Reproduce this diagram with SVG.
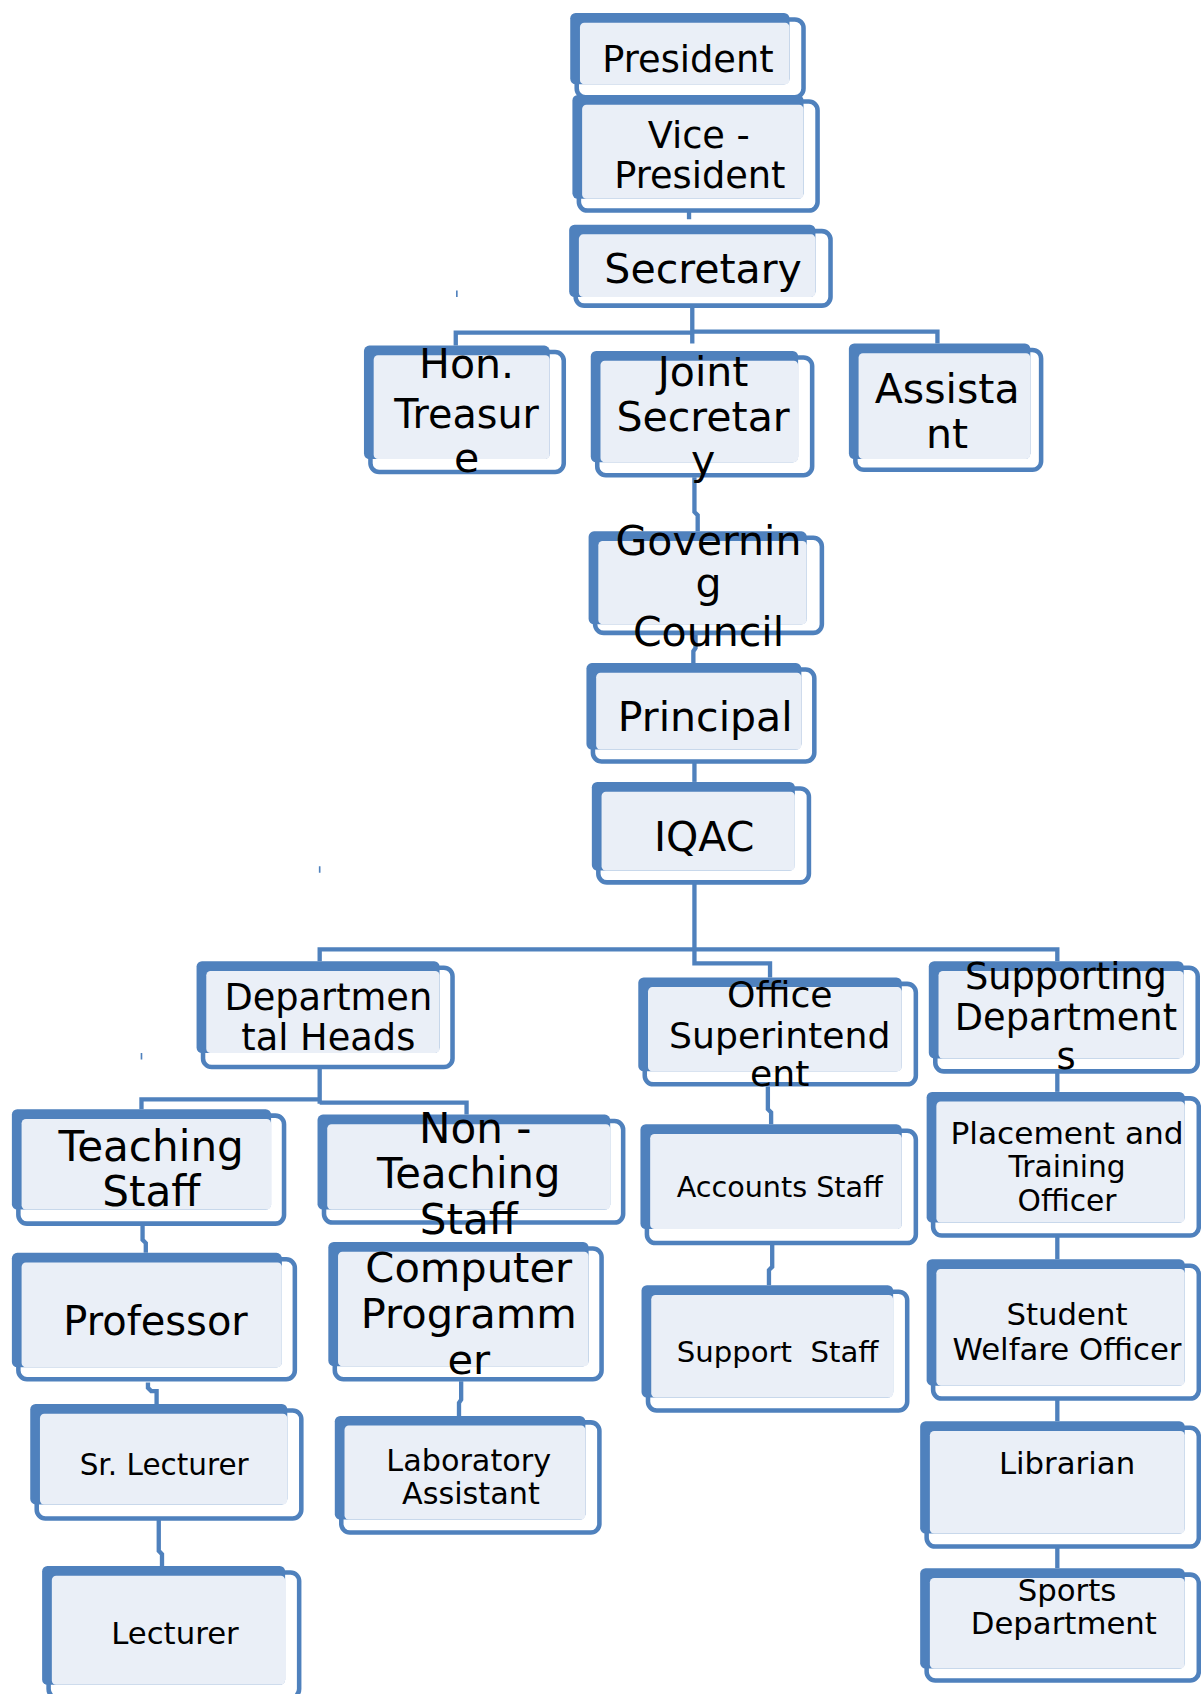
<svg xmlns="http://www.w3.org/2000/svg" width="1201" height="1694" viewBox="0 0 1201 1694">
<style>
.b{fill:#4F81BD}
.o{fill:#FFFFFF;stroke:#4F81BD;stroke-width:4.2}
.l{fill:#EAEFF7}
.c{fill:none;stroke:#4F81BD;stroke-width:4}
.t{fill:none;stroke:#4F81BD;stroke-width:1.5}
text{font-family:"DejaVu Sans","Liberation Sans",sans-serif;text-anchor:middle;fill:#000}
</style>
<rect width="1201" height="1694" fill="#FFFFFF"/>
<g transform="scale(1.08)">
<g id="connectors">
<path class="c" d="M638,192 V203"/>
<path class="c" d="M641,285 V308 M422,320 V308 H641 M641,307 H868 V318 M641,308 V318"/>
<path class="c" d="M643,442 V474 L646,477 V492"/>
<path class="c" d="M644,588 V600 L642,603 V614"/>
<path class="c" d="M643,700 V724"/>
<path class="c" d="M643,818 V892 H713 V905 M296,890 V879 H979 V890"/>
<path class="c" d="M296,988 V1022 M131,1027 V1018 H296 M296,1021 H432 V1032"/>
<path class="c" d="M132,1135 V1148 L135,1151 V1160"/>
<path class="c" d="M137,1280 V1285 L140,1288 H145 V1300"/>
<path class="c" d="M147,1407 V1436 L150,1439 V1450"/>
<path class="c" d="M427,1279 V1296 L425,1299 V1311"/>
<path class="c" d="M711,1006 V1027 L714,1030 V1041"/>
<path class="c" d="M715,1150 V1173 L712,1176 V1190"/>
<path class="c" d="M979,986 V1011"/>
<path class="c" d="M979,1145 V1166"/>
<path class="c" d="M979,1296 V1316"/>
<path class="c" d="M979,1432 V1452"/>
<path class="t" d="M423,269 V275 M296,802 V808 M131,975 V981"/>
</g>
<g id="president">
<rect class="o" x="534" y="18" width="210" height="72" rx="8"/>
<rect class="b" x="528" y="12" width="203" height="66" rx="5"/>
<rect class="l" x="537" y="21" width="194" height="57" rx="4"/>
<text x="637" y="67" font-size="34">President</text>
</g>
<g id="vice-president">
<rect class="o" x="536" y="94" width="221" height="101" rx="8"/>
<rect class="b" x="530" y="88" width="214" height="96" rx="5"/>
<rect class="l" x="539" y="97" width="205" height="87" rx="4"/>
<text x="647" y="137" font-size="34">Vice -</text>
<text x="648" y="174" font-size="34">President</text>
</g>
<g id="secretary">
<rect class="o" x="533" y="214" width="236" height="69" rx="8"/>
<rect class="b" x="527" y="208" width="228" height="67" rx="5"/>
<rect class="l" x="536" y="217" width="219" height="58" rx="4"/>
<text x="651" y="262" font-size="38">Secretary</text>
</g>
<g id="hon-treasurer">
<rect class="o" x="343" y="326" width="179" height="111" rx="8"/>
<rect class="b" x="337" y="320" width="172" height="105" rx="5"/>
<rect class="l" x="346" y="329" width="163" height="96" rx="4"/>
<text x="432" y="350" font-size="38">Hon.</text>
<text x="432" y="396" font-size="38" textLength="134" lengthAdjust="spacingAndGlyphs">Treasur</text>
<text x="432" y="437" font-size="38">e</text>
</g>
<g id="joint-secretary">
<rect class="o" x="553" y="331" width="199" height="109" rx="8"/>
<rect class="b" x="547" y="325" width="192" height="103" rx="5"/>
<rect class="l" x="556" y="334" width="183" height="94" rx="4"/>
<text x="651" y="357" font-size="38">Joint</text>
<text x="651" y="399" font-size="38">Secretar</text>
<text x="651" y="439" font-size="38">y</text>
</g>
<g id="assistant">
<rect class="o" x="792" y="324" width="172" height="111" rx="8"/>
<rect class="b" x="786" y="318" width="168" height="107" rx="5"/>
<rect class="l" x="795" y="327" width="159" height="98" rx="4"/>
<text x="877" y="373" font-size="38">Assista</text>
<text x="877" y="415" font-size="38">nt</text>
</g>
<g id="governing-council">
<rect class="o" x="551" y="498" width="210" height="88" rx="8"/>
<rect class="b" x="545" y="492" width="202" height="86" rx="5"/>
<rect class="l" x="554" y="501" width="193" height="77" rx="4"/>
<text x="656" y="514" font-size="38">Governin</text>
<text x="656" y="553" font-size="38">g</text>
<text x="656" y="598" font-size="38">Council</text>
</g>
<g id="principal">
<rect class="o" x="549" y="620" width="205" height="85" rx="8"/>
<rect class="b" x="543" y="614" width="199" height="80" rx="5"/>
<rect class="l" x="552" y="623" width="190" height="71" rx="4"/>
<text x="653" y="677" font-size="38">Principal</text>
</g>
<g id="iqac">
<rect class="o" x="554" y="730" width="195" height="87" rx="8"/>
<rect class="b" x="548" y="724" width="188" height="82" rx="5"/>
<rect class="l" x="557" y="733" width="179" height="73" rx="4"/>
<text x="652" y="788" font-size="38">IQAC</text>
</g>
<g id="departmental-heads">
<rect class="o" x="188" y="896" width="231" height="92" rx="8"/>
<rect class="b" x="182" y="890" width="225" height="85" rx="5"/>
<rect class="l" x="191" y="899" width="216" height="76" rx="4"/>
<text x="304" y="935" font-size="34">Departmen</text>
<text x="304" y="972" font-size="34">tal Heads</text>
</g>
<g id="office-superintendent">
<rect class="o" x="597" y="911" width="251" height="93" rx="8"/>
<rect class="b" x="591" y="905" width="244" height="87" rx="5"/>
<rect class="l" x="600" y="914" width="235" height="78" rx="4"/>
<text x="722" y="932" font-size="33.5">Office</text>
<text x="722" y="970" font-size="33.5">Superintend</text>
<text x="722" y="1006" font-size="33.5">ent</text>
</g>
<g id="supporting-departments">
<rect class="o" x="866" y="896" width="243" height="96" rx="8"/>
<rect class="b" x="860" y="890" width="236" height="90" rx="5"/>
<rect class="l" x="869" y="899" width="227" height="81" rx="4"/>
<text x="987" y="916" font-size="34">Supporting</text>
<text x="987" y="954" font-size="34">Department</text>
<text x="987" y="990" font-size="34">s</text>
</g>
<g id="teaching-staff">
<rect class="o" x="17" y="1033" width="246" height="100" rx="8"/>
<rect class="b" x="11" y="1027" width="240" height="93" rx="5"/>
<rect class="l" x="20" y="1036" width="231" height="84" rx="4"/>
<text x="140" y="1075" font-size="39">Teaching</text>
<text x="140" y="1117" font-size="39">Staff</text>
</g>
<g id="non-teaching-staff">
<rect class="o" x="300" y="1038" width="277" height="94" rx="8"/>
<rect class="b" x="294" y="1032" width="271" height="88" rx="5"/>
<rect class="l" x="303" y="1041" width="262" height="79" rx="4"/>
<text x="440" y="1058" font-size="39">Non -</text>
<text x="434" y="1100" font-size="39" textLength="170" lengthAdjust="spacingAndGlyphs">Teaching</text>
<text x="434" y="1143" font-size="39">Staff</text>
</g>
<g id="accounts-staff">
<rect class="o" x="599" y="1047" width="249" height="104" rx="8"/>
<rect class="b" x="593" y="1041" width="242" height="97" rx="5"/>
<rect class="l" x="602" y="1050" width="233" height="88" rx="4"/>
<text x="722" y="1108" font-size="26.5">Accounts Staff</text>
</g>
<g id="placement-training-officer">
<rect class="o" x="864" y="1017" width="246" height="127" rx="8"/>
<rect class="b" x="858" y="1011" width="239" height="121" rx="5"/>
<rect class="l" x="867" y="1020" width="230" height="112" rx="4"/>
<text x="988" y="1059" font-size="27.5" textLength="216" lengthAdjust="spacingAndGlyphs">Placement and</text>
<text x="988" y="1090" font-size="27.5">Training</text>
<text x="988" y="1121" font-size="27.5">Officer</text>
</g>
<g id="professor">
<rect class="o" x="17" y="1166" width="256" height="111" rx="8"/>
<rect class="b" x="11" y="1160" width="250" height="106" rx="5"/>
<rect class="l" x="20" y="1169" width="241" height="97" rx="4"/>
<text x="144" y="1236" font-size="37">Professor</text>
</g>
<g id="computer-programmer">
<rect class="o" x="310" y="1156" width="247" height="121" rx="8"/>
<rect class="b" x="304" y="1150" width="241" height="115" rx="5"/>
<rect class="l" x="313" y="1159" width="232" height="106" rx="4"/>
<text x="434" y="1187" font-size="38.5">Computer</text>
<text x="434" y="1230" font-size="38.5">Programm</text>
<text x="434" y="1272" font-size="38.5">er</text>
</g>
<g id="support-staff">
<rect class="o" x="600" y="1196" width="240" height="110" rx="8"/>
<rect class="b" x="594" y="1190" width="233" height="104" rx="5"/>
<rect class="l" x="603" y="1199" width="224" height="95" rx="4"/>
<text x="720" y="1261" font-size="27" xml:space="preserve">Support  Staff</text>
</g>
<g id="student-welfare-officer">
<rect class="o" x="864" y="1172" width="246" height="123" rx="8"/>
<rect class="b" x="858" y="1166" width="239" height="117" rx="5"/>
<rect class="l" x="867" y="1175" width="230" height="108" rx="4"/>
<text x="988" y="1227" font-size="28.5">Student</text>
<text x="988" y="1259" font-size="28.5">Welfare Officer</text>
</g>
<g id="sr-lecturer">
<rect class="o" x="34" y="1306" width="245" height="100" rx="8"/>
<rect class="b" x="28" y="1300" width="238" height="93" rx="5"/>
<rect class="l" x="37" y="1309" width="229" height="84" rx="4"/>
<text x="152" y="1366" font-size="27.3">Sr. Lecturer</text>
</g>
<g id="laboratory-assistant">
<rect class="o" x="316" y="1317" width="239" height="102" rx="8"/>
<rect class="b" x="310" y="1311" width="232" height="96" rx="5"/>
<rect class="l" x="319" y="1320" width="223" height="87" rx="4"/>
<text x="434" y="1362" font-size="28">Laboratory</text>
<text x="436" y="1393" font-size="28">Assistant</text>
</g>
<g id="librarian">
<rect class="o" x="858" y="1322" width="252" height="110" rx="8"/>
<rect class="b" x="852" y="1316" width="245" height="104" rx="5"/>
<rect class="l" x="861" y="1325" width="236" height="95" rx="4"/>
<text x="988" y="1365" font-size="28.5">Librarian</text>
</g>
<g id="lecturer">
<rect class="o" x="45" y="1456" width="232" height="116" rx="8"/>
<rect class="b" x="39" y="1450" width="225" height="110" rx="5"/>
<rect class="l" x="48" y="1459" width="216" height="101" rx="4"/>
<text x="162" y="1522" font-size="28.5">Lecturer</text>
</g>
<g id="sports-department">
<rect class="o" x="858" y="1458" width="252" height="98" rx="8"/>
<rect class="b" x="852" y="1452" width="245" height="93" rx="5"/>
<rect class="l" x="861" y="1461" width="236" height="84" rx="4"/>
<text x="988" y="1482" font-size="28.5">Sports</text>
<text x="985" y="1513" font-size="28.5">Department</text>
</g>
</g>
</svg>
